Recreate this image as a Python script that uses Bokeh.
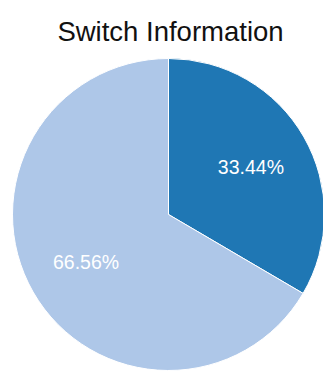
import math
from bokeh.plotting import figure
from bokeh.models import Range1d, ColumnDataSource
from bokeh.core.properties import value
from bokeh.embed import file_html
from bokeh.resources import INLINE

# data
categories = ["Switch A", "Switch B"]
percents = [33.44, 66.56]
colors = ["#1f77b4", "#aec7e8"]
title_text = "Switch Information"

W, H = 323, 373
CX, CY = 168, H - 214
R = 156
LABEL_R = 95

total = sum(percents)
starts, ends, lx, ly, texts = [], [], [], [], []
cum = 0.0
for v in percents:
    f0 = cum / total
    cum += v
    f1 = cum / total
    starts.append(math.pi / 2 - f0 * 2 * math.pi)
    ends.append(math.pi / 2 - f1 * 2 * math.pi)
    mid = (f0 + f1) / 2 * 2 * math.pi
    lx.append(CX + LABEL_R * math.sin(mid))
    ly.append(CY + LABEL_R * math.cos(mid))
    texts.append(f"{v:.2f}%")

src = ColumnDataSource(dict(cat=categories, start=starts, end=ends,
                            color=colors, lx=lx, ly=ly, text=texts))

p = figure(width=W, height=H, x_range=Range1d(0, W), y_range=Range1d(0, H),
           output_backend="svg", toolbar_location=None, min_border=0,
           x_axis_type=None, y_axis_type=None)
p.grid.visible = False
p.outline_line_color = None
p.background_fill_color = "white"
p.border_fill_color = "white"

p.wedge(x=CX, y=CY, radius=R, start_angle="start", end_angle="end",
        direction="clock", fill_color="color", line_color="white",
        line_width=1, source=src)

p.text(x="lx", y="ly", text="text", source=src, text_color="white",
       text_align="center", text_baseline="alphabetic",
       text_font=value("Liberation Sans"), text_font_size="19.5px")

p.text(x=[170], y=[H - 31], text=[title_text], text_color="#111111",
       text_align="center", text_baseline="alphabetic",
       text_font=value("Liberation Sans"), text_font_size="27.5px")

open("out.html", "w").write(file_html(p, INLINE))
